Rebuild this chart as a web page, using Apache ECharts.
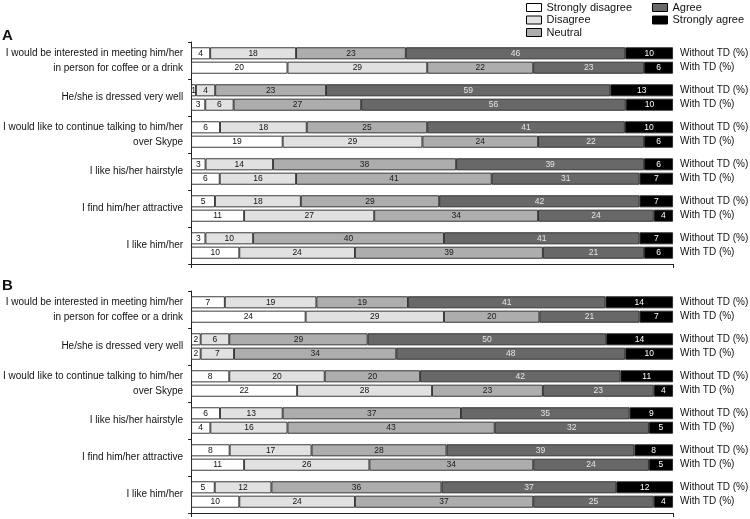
<!DOCTYPE html>
<html><head><meta charset="utf-8">
<script src="https://cdn.jsdelivr.net/npm/echarts@6/dist/echarts.min.js"></script>
<style>html,body{margin:0;padding:0;background:#fff}#c{width:750px;height:519px}</style>
</head><body><div id="c"></div>
<script>
const categories = [
  'I would be interested in meeting him/her\nin person for coffee or a drink',
  'He/she is dressed very well',
  'I would like to continue talking to him/her\nover Skype',
  'I like his/her hairstyle',
  'I find him/her attractive',
  'I like him/her'
];
const levels = ['Strongly disagree', 'Disagree', 'Neutral', 'Agree', 'Strongly agree'];
const conditionLabels = ['Without TD (%)', 'With TD (%)'];
const panelLabels = ['A', 'B'];
// rows follow categories; columns follow levels
const A_without = [[4,18,23,46,10],[1,4,23,59,13],[6,18,25,41,10],[3,14,38,39,6],[5,18,29,42,7],[3,10,40,41,7]];
const A_with    = [[20,29,22,23,6],[3,6,27,56,10],[19,29,24,22,6],[6,16,41,31,7],[11,27,34,24,4],[10,24,39,21,6]];
const B_without = [[7,19,19,41,14],[2,6,29,50,14],[8,20,20,42,11],[6,13,37,35,9],[8,17,28,39,8],[5,12,36,37,12]];
const B_with    = [[24,29,20,21,7],[2,7,34,48,10],[22,28,23,23,4],[4,16,43,32,5],[11,26,34,24,5],[10,24,37,25,4]];
const xTicks = [0, 100];

const panels = [[A_without, A_with], [B_without, B_with]];
const fills = ['#ffffff', '#e1e1e1', '#adadad', '#686868', '#000000'];
const labelColors = ['#111', '#111', '#1a1a1a', '#e6e6e6', '#ffffff'];
const FONT = '"Liberation Sans", Arial, sans-serif';

const grids = [
  {left: 190, top: 42, width: 483, height: 222},
  {left: 190, top: 291, width: 483, height: 222}
];

const xAxes = grids.map((g, i) => ({
  type: 'value', gridIndex: i, min: xTicks[0], max: xTicks[1], interval: xTicks[1] - xTicks[0],
  axisLine: {show: true, lineStyle: {color: '#222', width: 1}},
  axisTick: {show: true, length: 4, lineStyle: {color: '#222'}},
  axisLabel: {show: false}, splitLine: {show: false}
}));
const yAxes = grids.map((g, i) => ({
  type: 'category', gridIndex: i, data: categories, inverse: true,
  axisLine: {show: true, lineStyle: {color: '#222', width: 1}},
  axisTick: {show: true, length: 3, lineStyle: {color: '#222'}},
  axisLabel: {color: '#111', fontSize: 10, fontFamily: FONT, margin: 8, lineHeight: 15, align: 'right'},
  splitLine: {show: false}
}));

const series = [];
panels.forEach((conds, p) => {
  conds.forEach((rows, c) => {
    const stack = 'p' + p + 'c' + c;
    levels.forEach((lev, k) => {
      series.push({
        type: 'bar', name: lev, stack: stack, xAxisIndex: p, yAxisIndex: p,
        barWidth: 12, barGap: '20%', barCategoryGap: '20%',
        itemStyle: {color: fills[k], borderColor: '#262626', borderWidth: 0.9},
        label: {
          show: true, position: 'inside', fontSize: 8.5, fontFamily: FONT, color: labelColors[k],
          formatter: (prm) => String(prm.data.raw)
        },
        emphasis: {disabled: true},
        data: rows.map(r => {
          const s = r.reduce((a, b) => a + b, 0);
          return {value: r[k] / s * 100, raw: r[k]};
        })
      });
    });
    series.push({
      type: 'bar', name: conditionLabels[c], stack: stack, xAxisIndex: p, yAxisIndex: p,
      barWidth: 12, barGap: '20%', clip: false,
      itemStyle: {color: 'rgba(0,0,0,0)'},
      label: {show: true, position: 'right', distance: 7, fontSize: 10, fontFamily: FONT, color: '#111',
        formatter: conditionLabels[c]},
      emphasis: {disabled: true}, silent: true,
      data: rows.map(() => 0)
    });
  });
});

const legendCommon = {
  orient: 'vertical', itemWidth: 15, itemHeight: 8, itemGap: 1.5, icon: 'rect',
  textStyle: {fontSize: 11, fontFamily: FONT, color: '#111', padding: [0, 0, 0, 0]},
  itemStyle: {borderColor: '#000', borderWidth: 1},
  selectedMode: false, padding: 0
};

const option = {
  animation: false,
  backgroundColor: '#fff',
  textStyle: {fontFamily: FONT},
  title: [
    {text: panelLabels[0], left: 2, top: 28, textStyle: {fontSize: 15, fontWeight: 'bold', color: '#111', fontFamily: FONT}, padding: 0},
    {text: panelLabels[1], left: 2, top: 278, textStyle: {fontSize: 15, fontWeight: 'bold', color: '#111', fontFamily: FONT}, padding: 0}
  ],
  legend: [
    Object.assign({}, legendCommon, {left: 526, top: 2, data: levels.slice(0, 3)}),
    Object.assign({}, legendCommon, {left: 652, top: 2, data: levels.slice(3)})
  ],
  grid: grids,
  xAxis: xAxes,
  yAxis: yAxes,
  series: series
};

const chart = echarts.init(document.getElementById('c'), null, {renderer: 'canvas'});
chart.setOption(option);
</script>
</body></html>
